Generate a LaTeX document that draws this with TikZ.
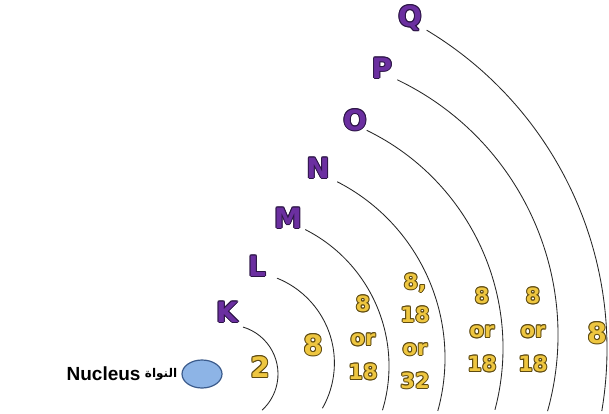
\documentclass[tikz,border=0pt]{standalone}
\usepackage{fontspec}
\setmainfont{DejaVu Sans}
\newfontfamily\arabicfont[Script=Arabic]{DejaVu Sans}
\newfontfamily\libsans{Liberation Sans}
\TeXXeTstate=1
\usetikzlibrary{positioning,shapes.geometric}
\definecolor{lblfill}{HTML}{6B2FA0}
\definecolor{lblline}{HTML}{2B1445}
\definecolor{numfill}{HTML}{EEC640}
\definecolor{numline}{HTML}{5E4A10}
\definecolor{shellline}{HTML}{262626}
\definecolor{nucfill}{HTML}{8DB4E6}
\definecolor{nucline}{HTML}{3B5B8C}
% outlined text: #1 fill colour, #2 outline colour, #3 text
\newcommand{\otx}[3]{{%
  \def\oo##1##2{\rlap{\kern##1\raisebox{##2}{\textcolor{#2}{#3}}}}%
  \oo{1pt}{0pt}\oo{-1pt}{0pt}\oo{0pt}{1pt}\oo{0pt}{-1pt}%
  \oo{0.7pt}{0.7pt}\oo{-0.7pt}{0.7pt}\oo{0.7pt}{-0.7pt}\oo{-0.7pt}{-0.7pt}%
  \textcolor{#1}{#3}}}
\newcommand{\shl}[1]{\otx{lblfill}{lblline}{#1}}
\newcommand{\nm}[1]{\otx{numfill}{numline}{#1}}
\tikzset{
  shell/.style={draw=shellline, line width=0.85pt},
  shellname/.style={font=\fontsize{28}{30}\selectfont\bfseries, inner sep=0pt},
  bignum/.style={font=\fontsize{28}{30}\selectfont\bfseries, inner sep=0pt},
  numcol/.style={font=\fontsize{21}{34}\selectfont\bfseries, align=center, inner sep=0pt},
}
\begin{document}
\begin{tikzpicture}[x=1pt,y=1pt]
\useasboundingbox (0,0) rectangle (609,413);
\fill[white] (0,0) rectangle (609,413);
% shell centres
\coordinate (cK) at (229,39);
\coordinate (cL) at (243,50);
\coordinate (cM) at (236,47);
\coordinate (cN) at (247,55);
\coordinate (cO) at (261,65);
\coordinate (cP) at (275,78);
\coordinate (cQ) at (235,64);
% shells
\draw[shell] (cK) ++(73.4:49) arc[start angle=73.4, end angle=-47.5, radius=49];
\draw[shell] (cL) ++(68.2:91.4) arc[start angle=68.2, end angle=-29.7, radius=91.4];
\draw[shell] (cM) ++(63.1:153) arc[start angle=63.1, end angle=-16.8, radius=153];
\draw[shell] (cN) ++(62.9:198) arc[start angle=62.9, end angle=-15.5, radius=198];
\draw[shell] (cO) ++(64.1:242) arc[start angle=64.1, end angle=-14.8, radius=242];
\draw[shell] (cP) ++(64.4:283) arc[start angle=64.4, end angle=-15.6, radius=283];
\draw[shell] (cQ) ++(59:372) arc[start angle=59, end angle=-9.6, radius=372];
% shell names
\node[shellname] (Q) at (410,395) {\shl{Q}};
\node[shellname] (P) at (382,345) {\shl{P}};
\node[shellname] (O) at (355,293) {\shl{O}};
\node[shellname] (N) at (318,245) {\shl{N}};
\node[shellname] (M) at (288,195) {\shl{M}};
\node[shellname] (L) at (257,147) {\shl{L}};
\node[shellname] (K) at (227,101) {\shl{K}};
% electron numbers
\node[bignum] (nK) at (260,46) {\nm{2}};
\node[bignum] (nL) at (313,68) {\nm{8}};
\node[numcol] (nM) at (363,75) {\nm{8}\\\nm{or}\\\nm{18}};
\node[numcol, font=\fontsize{21}{33}\selectfont\bfseries] (nN) at (415,82) {\nm{8,}\\\nm{18}\\\nm{or}\\\nm{32}};
\node[numcol] (nO) at (482,83) {\nm{8}\\\nm{or}\\\nm{18}};
\node[numcol] (nP) at (533,83) {\nm{8}\\\nm{or}\\\nm{18}};
\node[bignum] (nQ) at (597,80) {\nm{8}};
% nucleus
\node[ellipse, draw=nucline, fill=nucfill, line width=1.2pt, minimum width=40pt, minimum height=28pt, inner sep=0pt] (nuc) at (202,39) {};
\node[inner sep=0pt, font=\fontsize{12}{13}\selectfont\bfseries, left=4pt of nuc] (ar) {\arabicfont\beginR النواة\endR};
\node[inner sep=0pt, font=\libsans\fontsize{19}{20}\selectfont\bfseries, left=4pt of ar] (nu) {Nucleus};
\end{tikzpicture}
\end{document}
